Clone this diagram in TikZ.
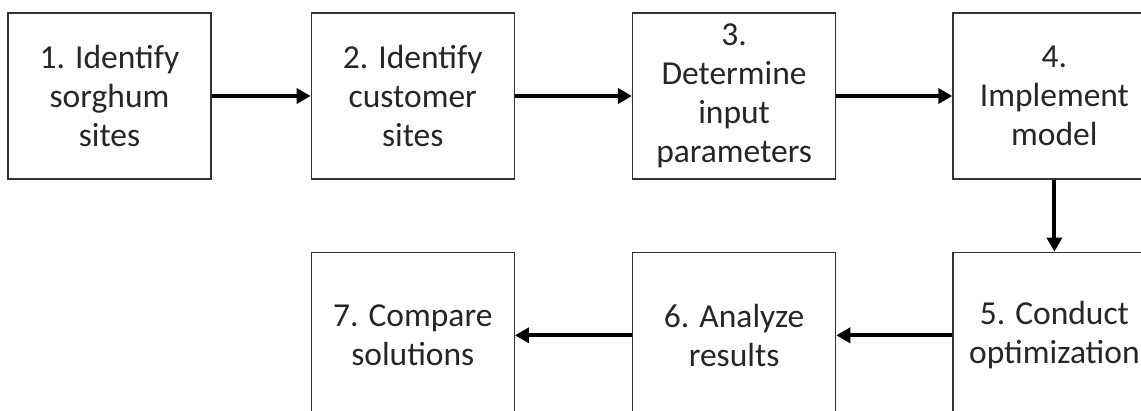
\documentclass[tikz,border=0pt]{standalone}
\usepackage{fontspec}
\setmainfont{Carlito}
\usetikzlibrary{arrows.meta,positioning}

\begin{document}
\begin{tikzpicture}[x=1pt,y=1pt,>={Triangle[length=14pt,width=15pt]},
  stepbox/.style={draw=black!80,line width=1.3pt,minimum width=203pt,minimum height=166pt,
    inner sep=0pt,align=center,text=black!85,font=\fontsize{33.5}{39}\selectfont},
  flow/.style={->,line width=4pt}]
  \clip (0,0) rectangle (1141,-410);
  \node[stepbox] (s1) at (109.5,-96) {1. Identify\\sorghum\\sites};
  \node[stepbox,right=99pt of s1] (s2) {2. Identify\\customer\\sites};
  \node[stepbox,right=117pt of s2] (s3) {3.\\Determine\\input\\parameters};
  \node[stepbox,right=116pt of s3] (s4) {4.\\Implement\\model};
  \node[stepbox,below=72pt of s4] (s5) {5. Conduct\\optimization};
  \node[stepbox,left=116pt of s5] (s6) {6. Analyze\\results};
  \node[stepbox,left=117pt of s6] (s7) {7. Compare\\solutions};
  \draw[flow] (s1) -- (s2);
  \draw[flow] (s2) -- (s3);
  \draw[flow] (s3) -- (s4);
  \draw[flow] (s4) -- (s5);
  \draw[flow] (s5) -- (s6);
  \draw[flow] (s6) -- (s7);
\end{tikzpicture}
\end{document}
